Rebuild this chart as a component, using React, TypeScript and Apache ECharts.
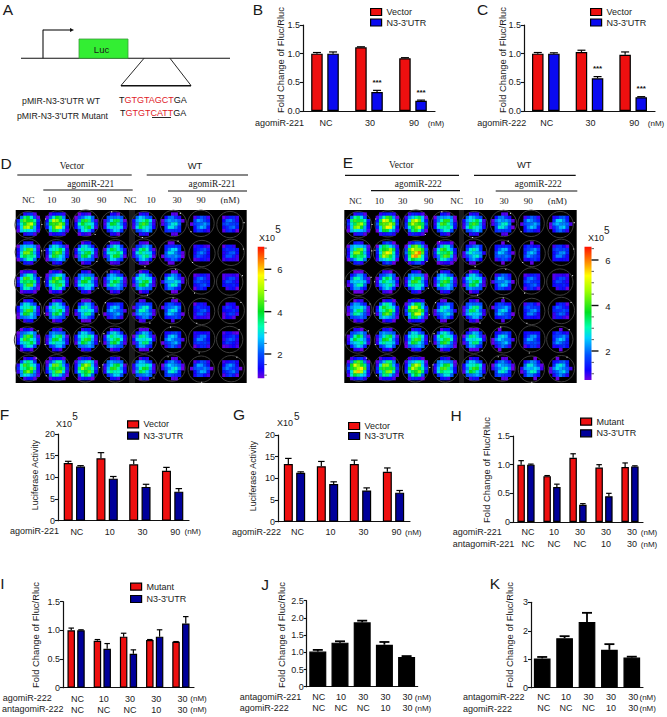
import React, { useEffect, useRef } from "react";
import * as echarts from "echarts";

// ---------- chart values ----------
const dose3 = ["NC", "30", "90"];
const dose4 = ["NC", "10", "30", "90"];
const combo5 = ["NC\nNC", "10\nNC", "30\nNC", "30\n10", "30\n30"];

const bVector = [1.0, 1.11, 0.92];
const bVectorErr = [0.02, 0.01, 0.01];
const bN3 = [1.0, 0.33, 0.18];
const bN3Err = [0.03, 0.03, 0.01];
const bN3Stars = ["", "***", "***"];

const cVector = [1.0, 1.03, 0.98];
const cVectorErr = [0.02, 0.03, 0.05];
const cN3 = [1.0, 0.57, 0.24];
const cN3Err = [0.015, 0.03, 0.01];
const cN3Stars = ["", "***", "***"];

const fVector = [13.3, 14.4, 13.0, 11.5];
const fVectorErr = [0.4, 1.3, 1.0, 0.8];
const fN3 = [12.5, 9.7, 7.8, 6.7];
const fN3Err = [0.2, 0.5, 0.6, 0.7];

const gVector = [13.3, 12.8, 13.3, 11.5];
const gVectorErr = [1.3, 1.1, 0.9, 0.9];
const gN3 = [11.3, 8.7, 7.2, 6.7];
const gN3Err = [0.2, 0.5, 0.6, 0.5];

const hMutant = [1.0, 0.8, 1.12, 0.95, 0.96];
const hMutantErr = [0.07, 0.01, 0.07, 0.05, 0.07];
const hN3 = [1.0, 0.61, 0.3, 0.45, 0.97];
const hN3Err = [0.01, 0.05, 0.02, 0.05, 0.01];

const iMutant = [1.0, 0.82, 0.89, 0.83, 0.8];
const iMutantErr = [0.04, 0.02, 0.06, 0.01, 0.005];
const iN3 = [1.0, 0.68, 0.59, 0.89, 1.12];
const iN3Err = [0.01, 0.09, 0.07, 0.12, 0.12];

const jValues = [1.02, 1.28, 1.87, 1.22, 0.86];
const jErr = [0.05, 0.04, 0.05, 0.08, 0.03];

const kValues = [1.03, 1.74, 2.31, 1.33, 1.06];
const kErr = [0.05, 0.07, 0.32, 0.2, 0.03];

// peak signal (x10^5) of each well, rows top to bottom
const plateD = [
  [4.8, 5.0, 3.9, 3.6, 3.8, 2.8, 2.4, 2.1],
  [4.3, 4.0, 3.7, 3.8, 3.5, 2.7, 2.0, 1.9],
  [4.2, 4.2, 3.7, 3.5, 3.7, 3.0, 2.0, 1.8],
  [3.9, 3.6, 3.3, 2.6, 3.0, 2.7, 1.9, 1.7],
  [4.0, 3.6, 3.8, 3.7, 3.4, 2.6, 2.1, 1.8],
  [4.3, 4.4, 4.6, 3.8, 3.6, 2.9, 2.4, 2.2],
];
const plateE = [
  [4.6, 5.3, 5.0, 4.0, 3.8, 2.9, 2.5, 2.7],
  [4.4, 5.0, 5.8, 4.2, 3.1, 2.5, 2.4, 2.2],
  [3.2, 3.5, 3.9, 3.8, 3.6, 2.6, 2.1, 1.8],
  [3.3, 4.2, 5.0, 3.0, 3.4, 2.6, 2.2, 2.0],
  [3.6, 3.7, 3.9, 3.9, 3.4, 2.7, 2.3, 2.4],
  [5.4, 4.6, 4.8, 4.0, 3.8, 2.9, 3.0, 2.8],
];
const plateColumns = ["1", "2", "3", "4", "5", "6", "7", "8"];
const plateRows = ["1", "2", "3", "4", "5", "6"];

// ---------- styling ----------
const SANS = '"Liberation Sans", Arial, sans-serif';
const SERIF = '"Liberation Serif", "Times New Roman", serif';
const RED = "#ee0f0f";
const BRIGHT_BLUE = "#0a0af0";
const NAVY = "#00009a";
const INK = "#1a1a1a";

const colorStops: [number, number[]][] = [
  [0.85, [112, 0, 224]],
  [1.3, [16, 0, 255]],
  [2.0, [0, 80, 255]],
  [2.8, [0, 208, 255]],
  [3.3, [0, 255, 176]],
  [4.0, [0, 224, 32]],
  [5.0, [160, 255, 0]],
  [5.7, [255, 255, 0]],
  [6.3, [255, 144, 0]],
  [7.05, [255, 16, 0]],
];

function signalColor(v: number) {
  let k = 0;
  while (k < colorStops.length - 2 && v > colorStops[k + 1][0]) k++;
  const [a, ca] = colorStops[k];
  const [b, cb] = colorStops[k + 1];
  const t = Math.max(0, Math.min(1, (v - a) / (b - a)));
  const c = ca.map((x, i) => Math.round(x + (cb[i] - x) * t));
  return `rgb(${c[0]},${c[1]},${c[2]})`;
}

const txt = (text: string, x: number, y: number, o: any = {}) => ({
  type: "text",
  x,
  y,
  rotation: o.rotation || 0,
  silent: true,
  style: {
    text,
    fill: o.fill || INK,
    font: `${o.weight || "normal"} ${o.size || 9}px ${o.family || SANS}`,
    textAlign: o.align || "center",
    textVerticalAlign: "middle",
    rich: o.rich,
  },
});
const seg = (x1: number, y1: number, x2: number, y2: number, lineWidth = 1.2) => ({
  type: "line",
  silent: true,
  shape: { x1, y1, x2, y2 },
  style: { stroke: "#111", lineWidth },
});

// ---------- bar panels ----------
type BarSet = { name: string; color: string; values: number[]; err: number[]; stars?: string[] };
type Panel = {
  cats: string[]; left: number; top: number; width: number; height: number;
  max: number; step: number; zero: string; barW: number; gap: number; capW: number; errW: number;
  sets: BarSet[]; labelY: number; lineH: number; labelShift: number;
  legend?: { x: number; y: number; spacing: number };
};
const V = "Vector", N = "N3-3'UTR", M = "Mutant";
const panels: Panel[] = [
  { cats: dose3, left: 303, top: 25, width: 132, height: 86, max: 1.5, step: 0.5, zero: "0.0", barW: 11.5, gap: 40, capW: 8, errW: 1.2, labelY: 123, lineH: 12, labelShift: 1,
    sets: [{ name: V, color: RED, values: bVector, err: bVectorErr }, { name: N, color: BRIGHT_BLUE, values: bN3, err: bN3Err, stars: bN3Stars }], legend: { x: 370, y: 12, spacing: 10.5 } },
  { cats: dose3, left: 524, top: 25, width: 131, height: 86, max: 1.5, step: 0.5, zero: "0.0", barW: 11.5, gap: 40, capW: 8, errW: 1.2, labelY: 123, lineH: 12, labelShift: 1,
    sets: [{ name: V, color: RED, values: cVector, err: cVectorErr }, { name: N, color: BRIGHT_BLUE, values: cN3, err: cN3Err, stars: cN3Stars }], legend: { x: 590, y: 12, spacing: 10.5 } },
  { cats: dose4, left: 58, top: 434, width: 131, height: 86.7, max: 20, step: 5, zero: "0", barW: 9, gap: 37, capW: 6.5, errW: 1.2, labelY: 531.5, lineH: 12, labelShift: 2.5,
    sets: [{ name: V, color: RED, values: fVector, err: fVectorErr }, { name: N, color: NAVY, values: fN3, err: fN3Err }], legend: { x: 127, y: 424.3, spacing: 11.4 } },
  { cats: dose4, left: 278, top: 435, width: 132, height: 86.7, max: 20, step: 5, zero: "0", barW: 9, gap: 37, capW: 6.5, errW: 1.2, labelY: 532, lineH: 12, labelShift: 3,
    sets: [{ name: V, color: RED, values: gVector, err: gVectorErr }, { name: N, color: NAVY, values: gN3, err: gN3Err }], legend: { x: 348, y: 426, spacing: 10 } },
  { cats: combo5, left: 513, top: 436, width: 130, height: 86, max: 1.5, step: 0.5, zero: "0", barW: 7.5, gap: 30, capW: 5.5, errW: 1.2, labelY: 538, lineH: 12, labelShift: 2,
    sets: [{ name: M, color: RED, values: hMutant, err: hMutantErr }, { name: N, color: NAVY, values: hN3, err: hN3Err }], legend: { x: 580, y: 421.7, spacing: 11.6 } },
  { cats: combo5, left: 63, top: 601.7, width: 131, height: 86, max: 1.5, step: 0.5, zero: "0", barW: 7.5, gap: 30, capW: 5.5, errW: 1.2, labelY: 704, lineH: 11, labelShift: 1.5,
    sets: [{ name: M, color: RED, values: iMutant, err: iMutantErr }, { name: N, color: NAVY, values: iN3, err: iN3Err }], legend: { x: 130, y: 586.7, spacing: 12.3 } },
  { cats: combo5, left: 306.7, top: 600.7, width: 111, height: 86, max: 2.5, step: 0.5, zero: "0", barW: 17, gap: 0, capW: 10, errW: 1.8, labelY: 702.5, lineH: 11.5, labelShift: 1,
    sets: [{ name: "", color: "#000", values: jValues, err: jErr }] },
  { cats: combo5, left: 531, top: 602.3, width: 112, height: 85.4, max: 3, step: 1, zero: "0", barW: 16.7, gap: 0, capW: 10, errW: 1.8, labelY: 702.5, lineH: 11.5, labelShift: 1.5,
    sets: [{ name: "", color: "#000", values: kValues, err: kErr }] },
];

// ---------- plates ----------
const plates = [
  { values: plateD, left: 13.7, top: 209.5, width: 231.2, height: 173.4 },
  { values: plateE, left: 343.85, top: 209.5, width: 231.2, height: 173.4 },
];

function renderWell(_: any, api: any) {
  const col = api.value(0), row = api.value(1), peak = api.value(2);
  const [cx, cy] = api.coord([col, row]);
  const b = 3.3, reach = 9.6, seed = col * 1.7 + row * 2.9;
  const children: any[] = [
    { type: "circle", shape: { cx: cx + Math.sin(seed) * 0.8, cy: cy + Math.cos(seed) * 0.8, r: 13.2 }, style: { fill: "none", stroke: "#3c3c3c", lineWidth: 1 } },
  ];
  for (let i = -4; i <= 4; i++) {
    for (let j = -4; j <= 4; j++) {
      const dx = i * b, dy = j * b;
      const d = 0.72 * Math.hypot(dx, dy) + 0.28 * Math.max(Math.abs(dx), Math.abs(dy));
      const wobble = 1 + 0.16 * Math.sin(seed * 3 + i * 1.3 + j * 2.1);
      const v = peak * Math.exp(-Math.pow(d / reach, 3)) * wobble;
      if (v < 0.85) continue;
      children.push({ type: "rect", shape: { x: cx + dx - b / 2, y: cy + dy - b / 2, width: b + 0.3, height: b + 0.3 }, style: { fill: signalColor(v) } });
    }
  }
  const t = seed * 2.1;
  children.push({ type: "rect", shape: { x: cx + 13.2 * Math.cos(t), y: cy + 13.2 * Math.sin(t), width: 1.1, height: 1.1 }, style: { fill: "#ddd" } });
  return { type: "group", children };
}

// ---------- fixed annotations ----------
function buildGraphics() {
  const g: any[] = [];
  // panel letters
  ([["A", 8, 9], ["B", 258, 9], ["C", 482.5, 9], ["D", 6, 163], ["E", 348, 162], ["F", 4.5, 414], ["G", 239, 414], ["H", 456, 415], ["I", 2.5, 583], ["J", 265, 584], ["K", 495, 583]] as [string, number, number][]).forEach(([t, x, y]) =>
    g.push(txt(t, x, y, { size: 15.5 }))
  );
  // panel A
  g.push(seg(21, 58.3, 230, 58.3, 1.1), seg(43, 58.3, 43, 29.8, 1.1), seg(43, 30, 71, 30, 1.1));
  g.push({ type: "polygon", silent: true, shape: { points: [[74, 30], [70, 28], [70, 32]] }, style: { fill: "#111" } });
  g.push({ type: "rect", silent: true, shape: { x: 79, y: 39, width: 49, height: 19.3 }, style: { fill: "#33ee33", stroke: "#3a9a3a", lineWidth: 0.8 } });
  g.push(txt("Luc", 101.5, 49.5, { size: 9.5 }));
  g.push(seg(144, 58.3, 121, 85.5, 0.9), seg(170, 58.3, 191, 85.5, 0.9), seg(121, 85.7, 191, 85.7, 1.5));
  g.push(txt("pMIR-N3-3'UTR WT", 61, 100.7, { size: 8.7 }), txt("pMIR-N3-3'UTR Mutant", 62.5, 115.7, { size: 8.7 }));
  const seqRich = { k: { fill: "#111", font: `9px ${SANS}` }, r: { fill: "#e0191f", font: `9px ${SANS}` } };
  g.push(txt("{k|T}{r|GTGTAGCT}{k|GA}", 119, 100, { align: "left", rich: seqRich }));
  g.push(txt("{k|T}{r|GTGTCATT}{k|GA}", 120, 112.5, { align: "left", rich: seqRich }));
  g.push(seg(152, 117.5, 171, 117.5, 0.9));

  // y titles
  const fold = "Fold Change of Fluc/Rluc", luc = "Luciferase Activity";
  ([[fold, 280, 60], [fold, 502, 60], [luc, 35, 475], [luc, 253, 476], [fold, 486.7, 470], [fold, 35, 635], [fold, 281.7, 635], [fold, 509.3, 635]] as [string, number, number][]).forEach(([t, x, y]) =>
    g.push(txt(t, x, y, { size: t === fold ? 9.4 : 8.8, rotation: Math.PI / 2 }))
  );
  // x row captions
  ([["agomiR-221", 255, 123], ["agomiR-222", 477.3, 123], ["agomiR-221", 10, 531], ["agomiR-222", 232, 532],
    ["agomiR-221", 452.7, 532], ["antagomiR-221", 452.7, 544], ["agomiR-222", 2.7, 698], ["antagomiR-222", 2, 709],
    ["antagomiR-221", 239.7, 696.7], ["agomiR-222", 239.7, 708], ["antagomiR-222", 463, 697], ["agomiR-222", 463, 708.5]] as [string, number, number][]).forEach(([t, x, y]) =>
    g.push(txt(t, x, y, { align: "left" }))
  );
  ([[436, 123], [656, 123], [192.7, 531.5], [413.3, 532], [649, 532], [649, 544], [198.5, 698], [198.5, 709], [423, 697], [423, 708.5], [647.7, 697], [647.7, 708.5]] as [number, number][]).forEach(([x, y]) =>
    g.push(txt("(nM)", x, y, { size: 8 }))
  );
  // X10^5 on F, G
  g.push(txt("X10", 64, 424), txt("5", 75, 416.7, { size: 10 }), txt("X10", 285, 423), txt("5", 296.7, 416.7, { size: 10 }));

  // plate D / E headers
  const header = (dx: any) => {
    g.push(txt("Vector", dx.vec[0], dx.vec[1], { family: SERIF, size: 9.4 }), txt("WT", dx.wt[0], dx.wt[1], { size: 9.4 }));
    dx.lines.forEach((l: number[]) => g.push(seg(l[0], l[2], l[1], l[2], 1.2)));
    dx.ago.forEach((x: number) => g.push(txt(dx.name, x, 183.5, { family: SERIF, size: 9.4 })));
    dx.cols.forEach((c: [string, number]) => g.push(txt(c[0], c[1], dx.colY, { family: SERIF, size: 9.2 })));
  };
  header({
    name: "agomiR-221", vec: [72, 165.7], wt: [195, 165], ago: [90.7, 212], colY: 200,
    lines: [[17.3, 131.7, 175], [146.7, 248, 175], [43.3, 132.7, 190], [168, 247, 191]],
    cols: [["NC", 28.3], ["10", 51.7], ["30", 75.7], ["90", 101.7], ["NC", 130], ["10", 151], ["30", 177], ["90", 201], ["(nM)", 230]],
  });
  header({
    name: "agomiR-222", vec: [401.3, 165], wt: [524.3, 164.3], ago: [418.3, 538.3], colY: 201,
    lines: [[345, 459, 175.3], [474, 575.7, 175.3], [371, 460, 190.7], [495.7, 577.3, 191]],
    cols: [["NC", 355.3], ["10", 379.3], ["30", 402.7], ["90", 428.7], ["NC", 456.7], ["10", 478.7], ["30", 504], ["90", 528.3], ["(nM)", 557.3]],
  });
  // plate backgrounds
  g.push({ type: "rect", z: -10, silent: true, shape: { x: 15.7, y: 210, width: 231, height: 173 }, style: { fill: "#000" } });
  g.push({ type: "rect", z: -9, silent: true, shape: { x: 129, y: 210, width: 6, height: 173 }, style: { fill: "#1b1b1b" } });
  g.push({ type: "rect", z: -10, silent: true, shape: { x: 344.3, y: 210, width: 232.4, height: 173 }, style: { fill: "#000" } });
  g.push({ type: "rect", z: -9, silent: true, shape: { x: 459, y: 210, width: 5, height: 173 }, style: { fill: "#1b1b1b" } });

  // colour bars
  const bar = (x: number, w: number, top: number, bottom: number, y6: number, y4: number, y2: number, labX: number, xLab: number, supX: number, supY: number) => {
    const lo = colorStops[0][0], hi = colorStops[colorStops.length - 1][0];
    const stops = colorStops.map(([v]) => ({ offset: (hi - v) / (hi - lo), color: signalColor(v) })).reverse();
    g.push({ type: "rect", silent: true, shape: { x, y: top, width: w, height: bottom - top }, style: { fill: new echarts.graphic.LinearGradient(0, 0, 0, 1, stops) } });
    const unit = (y2 - y6) / 8;
    for (let k = -3; k <= 11; k++) {
      const y = y6 + k * unit;
      if (y < top || y > bottom) continue;
      const major = k === 0 || k === 4 || k === 8;
      g.push(seg(x + w, y, x + w + (major ? 7 : 2.5), y, major ? 1.4 : 0.7));
    }
    g.push(txt("6", labX, y6, { size: 9.5 }), txt("4", labX, y4, { size: 9.5 }), txt("2", labX, y2, { size: 9.5 }));
    g.push(txt("X10", xLab, 237.7), txt("5", supX, supY, { size: 10 }));
  };
  bar(257.7, 6.6, 246.7, 378.3, 269.3, 312.4, 354, 280, 267, 278, 229);
  bar(584.5, 7, 246.7, 380, 260, 306.7, 351, 608, 596, 606.7, 230);
  return g;
}

// ---------- option ----------
function buildOption() {
  const grid: any[] = [], xAxis: any[] = [], yAxis: any[] = [], series: any[] = [], legend: any[] = [];
  panels.forEach((p, idx) => {
    grid.push({ left: p.left, top: p.top, width: p.width, height: p.height, containLabel: false });
    xAxis.push({
      type: "category", gridIndex: idx, data: p.cats,
      axisLine: { lineStyle: { color: "#111", width: 1.2 } },
      axisTick: { alignWithLabel: true, length: 2.5, lineStyle: { color: "#111", width: 1 } },
      axisLabel: { interval: 0, color: INK, fontFamily: SANS, fontSize: 9, lineHeight: p.lineH, hideOverlap: false,
        margin: p.cats === combo5 ? p.labelY - p.top - p.height - p.lineH : p.labelY - p.top - p.height - p.lineH / 2,
        padding: [0, 0, 0, p.labelShift * 2] },
    });
    yAxis.push({
      type: "value", gridIndex: idx, min: 0, max: p.max, interval: p.step,
      splitLine: { show: false },
      axisLine: { show: true, lineStyle: { color: "#111", width: 1.2 } },
      axisTick: { show: true, length: 3, lineStyle: { color: "#111", width: 1.1 } },
      axisLabel: { color: INK, fontFamily: SANS, fontSize: 9, margin: 3,
        formatter: (v: number) => (v === 0 ? p.zero : p.step === 1 || p.step === 5 ? String(v) : v.toFixed(1)) },
    });
    const spacing = p.barW * (1 + p.gap / 100);
    p.sets.forEach((s, si) => {
      series.push({
        type: "bar", name: s.name || undefined, xAxisIndex: idx, yAxisIndex: idx, data: s.values,
        barWidth: p.barW, barGap: `${p.gap}%`,
        itemStyle: { color: s.color, borderColor: "#000", borderWidth: 1.2 },
        silent: true,
      });
      const off = p.sets.length === 2 ? (si === 0 ? -spacing / 2 : spacing / 2) : 0;
      series.push({
        type: "custom", xAxisIndex: idx, yAxisIndex: idx, silent: true, clip: false,
        data: s.values.map((v, i) => [i, v, s.err[i]]),
        encode: { x: 0, y: 1 },
        renderItem: (_: any, api: any) => {
          const i = api.value(0), v = api.value(1), e = api.value(2);
          const base = api.coord([i, v]);
          const top = api.coord([i, v + e]);
          const x = base[0] + off;
          const line = { stroke: "#000", lineWidth: p.errW };
          const kids: any[] = [
            { type: "line", shape: { x1: x, y1: base[1], x2: x, y2: top[1] }, style: line },
            { type: "line", shape: { x1: x - p.capW / 2, y1: top[1], x2: x + p.capW / 2, y2: top[1] }, style: line },
          ];
          const star = s.stars ? s.stars[i] : "";
          if (star) kids.push({ type: "text", x, y: top[1] - 8, style: { text: star, fill: "#111", font: `bold 8px ${SANS}`, textAlign: "center", textVerticalAlign: "middle" } });
          return { type: "group", children: kids };
        },
      });
    });
    if (p.legend) {
      legend.push({
        left: p.legend.x, top: p.legend.y - 5.5, orient: "vertical", selectedMode: false,
        icon: "rect", itemWidth: 11, itemHeight: 7, itemGap: p.legend.spacing - 11, padding: 0,
        textStyle: { color: INK, fontFamily: SANS, fontSize: 9, lineHeight: 11, padding: [0, 0, 0, 0] },
        data: p.sets.map((s) => ({ name: s.name, itemStyle: { color: s.color, borderColor: "#000", borderWidth: 1.2 } })),
      });
    }
  });
  plates.forEach((pl) => {
    const idx = grid.length;
    grid.push({ left: pl.left, top: pl.top, width: pl.width, height: pl.height });
    xAxis.push({ type: "category", gridIndex: idx, data: plateColumns, show: false });
    yAxis.push({ type: "category", gridIndex: idx, data: plateRows, inverse: true, show: false });
    const data: number[][] = [];
    pl.values.forEach((r, ri) => r.forEach((v, ci) => data.push([ci, ri, v])));
    series.push({ type: "custom", xAxisIndex: idx, yAxisIndex: idx, silent: true, clip: false, data, encode: { x: 0, y: 1 }, renderItem: renderWell });
  });
  return { animation: false, backgroundColor: "#fff", tooltip: { show: false }, grid, xAxis, yAxis, series, legend, graphic: { elements: buildGraphics() } };
}

export default function App() {
  const ref = useRef<HTMLDivElement>(null);
  useEffect(() => {
    document.body.style.margin = "0";
    const chart = echarts.init(ref.current!, undefined, { renderer: "svg" });
    chart.setOption(buildOption());
    return () => chart.dispose();
  }, []);
  return <div ref={ref} style={{ position: "absolute", left: 0, top: 0, width: 667, height: 717 }} />;
}
